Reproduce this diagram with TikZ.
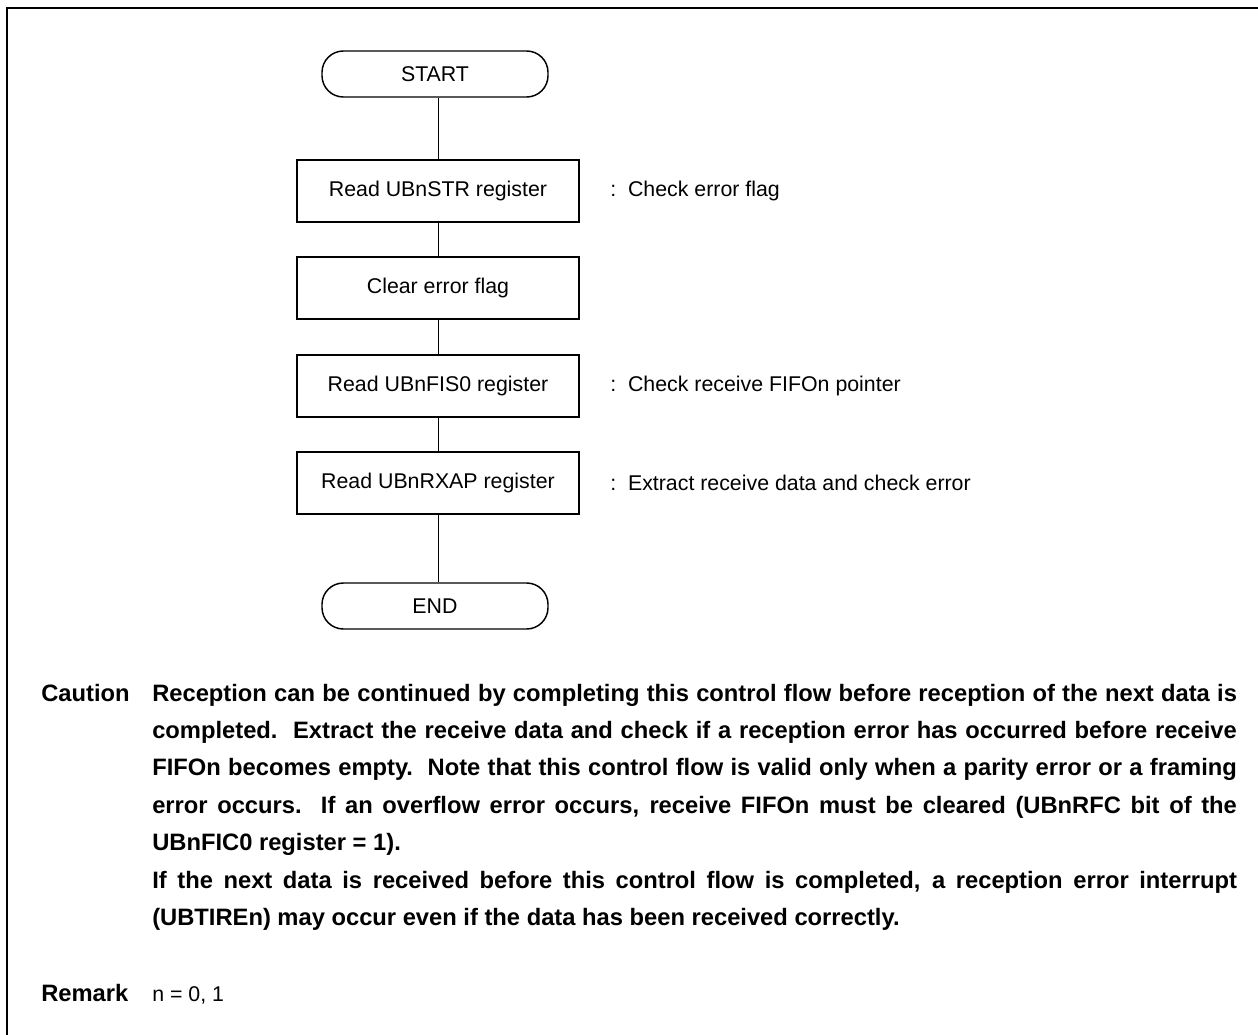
\documentclass[tikz,border=0pt]{standalone}
\usepackage{fontspec}
\setmainfont{Liberation Sans}
\begin{document}
\begin{tikzpicture}[x=0.75pt,y=-0.75pt,
  txt/.style={font=\fontsize{16}{19}\selectfont},
  btxt/.style={font=\fontsize{17.8}{28.05}\selectfont\bfseries},
  box/.style={draw,line width=1.1pt,minimum width=211.5pt,minimum height=46.5pt,inner sep=0pt,txt},
  term/.style={draw,line width=1.1pt,rounded corners=16pt,minimum width=169.5pt,minimum height=34.5pt,inner sep=0pt,txt},
  note/.style={anchor=west,inner sep=0pt,txt},
  conn/.style={line width=0.6pt},
  frame/.style={line width=1.6pt}]
\useasboundingbox (0,0) rectangle (1258,1035);
\coordinate (fa) at (7,1035);
\coordinate (fb) at (7,8);
\coordinate (fc) at (1258,8);
\draw[frame] (fa) -- (fb) -- (fc);

\node[term] (start) at (435,74) {START};
\node[box] (b1) at (438,191) {Read UBnSTR register};
\node[box] (b2) at (438,288) {Clear error flag};
\node[box] (b3) at (438,386) {Read UBnFIS0 register};
\node[box] (b4) at (438,483) {Read UBnRXAP register};
\node[term] (end) at (435,606) {END};

\draw[conn] (start.south -| b1) -- (b1);
\draw[conn] (b1) -- (b2);
\draw[conn] (b2) -- (b3);
\draw[conn] (b3) -- (b4);
\draw[conn] (b4) -- (end.north -| b4);

\node[note] (n1) at (610,191) {:\ \ Check error flag};
\node[note] (n3) at (610,386) {:\ \ Check receive FIFOn pointer};
\node[note] (n4) at (610,483) {:\ \ Extract receive data and check error};

\node[anchor=base west,inner sep=0pt,btxt] (cl) at (41,701) {Caution};
\node[anchor=base west,inner sep=0pt,text width=813.5pt,align=justify,btxt] (ct) at (152,701)
{Reception can be continued by completing this control flow before reception of the next data is\linebreak
completed.\ \ Extract the receive data and check if a reception error has occurred before receive\linebreak
FIFOn becomes empty.\ \ Note that this control flow is valid only when a parity error or a framing\linebreak
error occurs.\ \ If an overflow error occurs, receive FIFOn must be cleared (UBnRFC bit of the\linebreak
UBnFIC0 register = 1).\newline
If the next data is received before this control flow is completed, a reception error interrupt\linebreak
(UBTIREn) may occur even if the data has been received correctly.};

\node[anchor=base west,inner sep=0pt,btxt] (rl) at (41,1001) {Remark};
\node[anchor=base west,inner sep=0pt,txt] (rt) at (152,1001) {n = 0, 1};
\end{tikzpicture}
\end{document}
